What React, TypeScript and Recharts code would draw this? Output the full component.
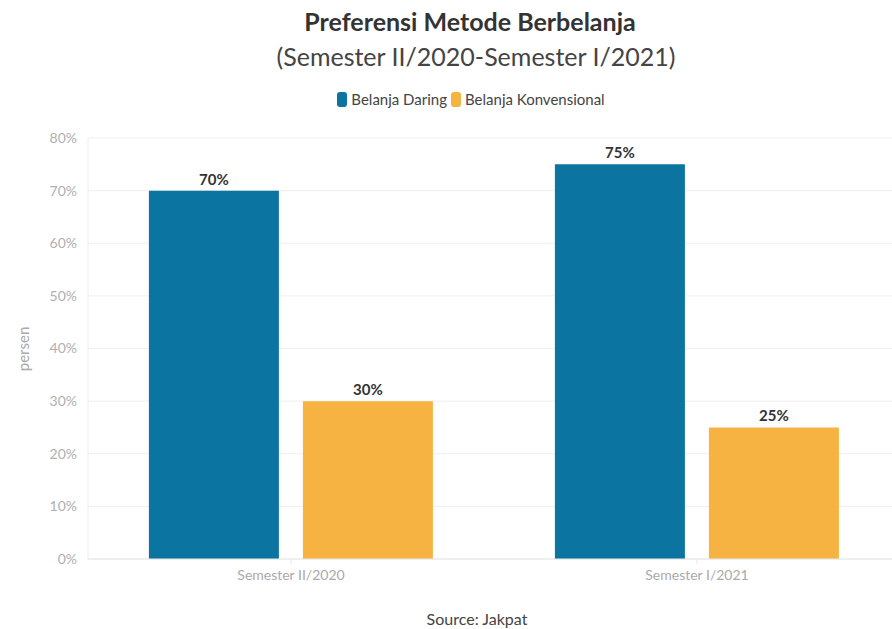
import { BarChart, Bar, XAxis, YAxis, CartesianGrid, LabelList } from "recharts";

const categories = ["Semester II/2020", "Semester I/2021"];
const daring = [70, 75];
const konvensional = [30, 25];
const yTicks = [0, 10, 20, 30, 40, 50, 60, 70, 80];

const data = categories.map((name, i) => ({
  name,
  daring: daring[i],
  konvensional: konvensional[i],
}));

const BLUE = "#0b74a0";
const ORANGE = "#f6b342";
const FONT = "Lato, 'Open Sans', sans-serif";

export default function App() {
  return (
    <div
      style={{
        position: "absolute",
        left: 0,
        top: 0,
        width: 892,
        height: 629,
        overflow: "hidden",
        background: "#fff",
        fontFamily: FONT,
      }}
    >
      {/* titel */}
      <div
        style={{
          position: "absolute",
          top: 6,
          left: 0,
          width: 940,
          textAlign: "center",
          fontSize: 25,
          fontWeight: 700,
          color: "#333",
        }}
      >
        Preferensi Metode Berbelanja
      </div>
      <div
        style={{
          position: "absolute",
          top: 41,
          left: 0,
          width: 952,
          textAlign: "center",
          fontSize: 25,
          color: "#444",
        }}
      >
        (Semester II/2020-Semester I/2021)
      </div>

      {/* legenda */}
      <div
        style={{
          position: "absolute",
          top: 90,
          left: 0,
          width: 942,
          display: "flex",
          justifyContent: "center",
          alignItems: "center",
          fontSize: 15,
          color: "#444",
        }}
      >
        <span style={{ width: 10, height: 15, borderRadius: 3, background: BLUE, marginRight: 4 }} />
        <span style={{ marginRight: 4 }}>Belanja Daring</span>
        <span style={{ width: 10, height: 15, borderRadius: 3, background: ORANGE, marginRight: 4 }} />
        <span>Belanja Konvensional</span>
      </div>

      {/* label sumbu y */}
      <div
        style={{
          position: "absolute",
          left: 23,
          top: 349,
          transform: "translate(-50%, -50%) rotate(-90deg)",
          fontSize: 15,
          color: "#aaa",
        }}
      >
        persen
      </div>

      <div style={{ position: "absolute", left: 0, top: 0 }}>
        <BarChart
          width={900}
          height={629}
          data={data}
          margin={{ top: 138, right: 0, left: 28, bottom: 40 }}
          barCategoryGap="15%"
          barGap={24}
        >
          <CartesianGrid stroke="#efefef" vertical={false} />
          <XAxis
            dataKey="name"
            height={30}
            axisLine={{ stroke: "#e6e6e6" }}
            tickLine={{ stroke: "#e6e6e6" }}
            tickSize={5}
            tick={{ fill: "#aaa", fontSize: 14, fontFamily: FONT }}
            dy={4}
          />
          <YAxis
            width={60}
            domain={[0, 80]}
            ticks={yTicks}
            tickFormatter={(v) => `${v}%`}
            axisLine={{ stroke: "#efefef" }}
            tickLine={false}
            tick={{ fill: "#b0b0b0", fontSize: 14, fontFamily: FONT }}
            dx={-3}
          />
          <Bar dataKey="daring" fill={BLUE} isAnimationActive={false}>
            <LabelList
              dataKey="daring"
              position="top"
              offset={6}
              formatter={(v: any) => `${v}%`}
              style={{ fill: "#333", fontSize: 15, fontWeight: 700, fontFamily: FONT }}
            />
          </Bar>
          <Bar dataKey="konvensional" fill={ORANGE} isAnimationActive={false}>
            <LabelList
              dataKey="konvensional"
              position="top"
              offset={6}
              formatter={(v: any) => `${v}%`}
              style={{ fill: "#333", fontSize: 15, fontWeight: 700, fontFamily: FONT }}
            />
          </Bar>
        </BarChart>
      </div>

      {/* sumber */}
      <div
        style={{
          position: "absolute",
          top: 609,
          left: 0,
          width: 954,
          textAlign: "center",
          fontSize: 16,
          color: "#444",
        }}
      >
        Source: Jakpat
      </div>
    </div>
  );
}
